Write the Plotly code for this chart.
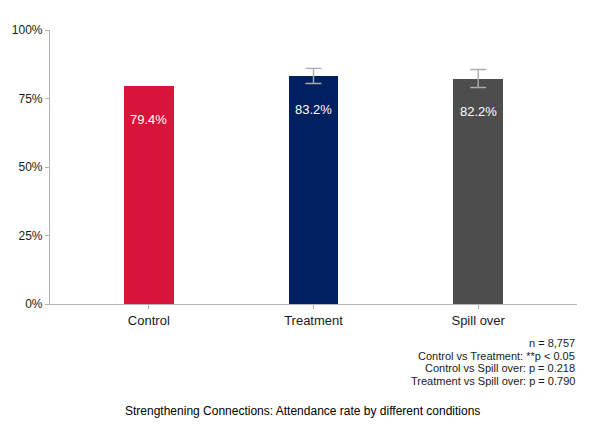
import plotly.graph_objects as go

# data
conditions = ["Control", "Treatment", "Spill over"]
rates = [79.4, 83.2, 82.2]
err_plus = [None, 2.8, 3.4]   # no error bar drawn for Control
err_minus = [None, 2.7, 3.2]
bar_colors = ["#D8143A", "#002060", "#4D4D4D"]
y_ticks = [0, 25, 50, 75, 100]
y_labels = ["0%", "25%", "50%", "75%", "100%"]
notes = ["n = 8,757",
         "Control vs Treatment: **p < 0.05",
         "Control vs Spill over: p = 0.218",
         "Treatment vs Spill over: p = 0.790"]
caption = "Strengthening Connections: Attendance rate by different conditions"

fig = go.Figure()
fig.add_trace(go.Bar(
    x=[0, 1, 2], y=rates, width=0.3,
    marker=dict(color=bar_colors, line=dict(width=0)),
))

# error bars only where there is one
idx = [i for i, e in enumerate(err_plus) if e is not None]
fig.add_trace(go.Scatter(
    x=idx, y=[rates[i] for i in idx], mode="markers",
    marker=dict(size=1, opacity=0), hoverinfo="skip",
    error_y=dict(type="data", array=[err_plus[i] for i in idx],
                 arrayminus=[err_minus[i] for i in idx],
                 color="#ABABAB", thickness=1.4, width=8),
))

# value labels inside the bars
for i, v in enumerate(rates):
    fig.add_annotation(x=i, y=v, text=f"{v:.1f}%", showarrow=False,
                       yshift=-33, font=dict(color="white", size=13))

# p-value notes, right aligned under the axis (one annotation per line)
for k, line in enumerate(notes):
    fig.add_annotation(x=1, xref="paper", y=-0.142 - 0.0463 * k, yref="paper",
                       xanchor="right", yanchor="middle",
                       text=line, showarrow=False,
                       font=dict(size=11, color="#1a1a1a"))
fig.add_annotation(x=0.48, xref="paper", y=-0.39, yref="paper",
                   xanchor="center", yanchor="middle",
                   text=caption, showarrow=False,
                   font=dict(size=12, color="black"))

# page body adds 8px, so the figure is a bit smaller than the window
fig.update_layout(
    width=592, height=421,
    margin=dict(l=42, r=23, t=22, b=125),
    paper_bgcolor="white", plot_bgcolor="white",
    font=dict(family="Liberation Sans, Arial, sans-serif", color="#333333"),
    showlegend=False, bargap=0,
)
fig.update_xaxes(range=[-0.6, 2.6], tickvals=[0, 1, 2], ticktext=conditions,
                 showgrid=False, zeroline=False, showline=True,
                 linecolor="#B3B3B3", linewidth=1.2, automargin=False,
                 ticks="outside", ticklen=4, tickcolor="#B3B3B3",
                 tickfont=dict(size=13, color="#1a1a1a"))
fig.update_yaxes(range=[0, 100], tickvals=y_ticks, ticktext=y_labels,
                 showgrid=False, zeroline=False, showline=True,
                 linecolor="#B3B3B3", linewidth=1.2, automargin=False,
                 ticks="outside", ticklen=4, tickcolor="#B3B3B3",
                 tickfont=dict(size=12, color="#1a1a1a"))

fig.write_html("out.html")
